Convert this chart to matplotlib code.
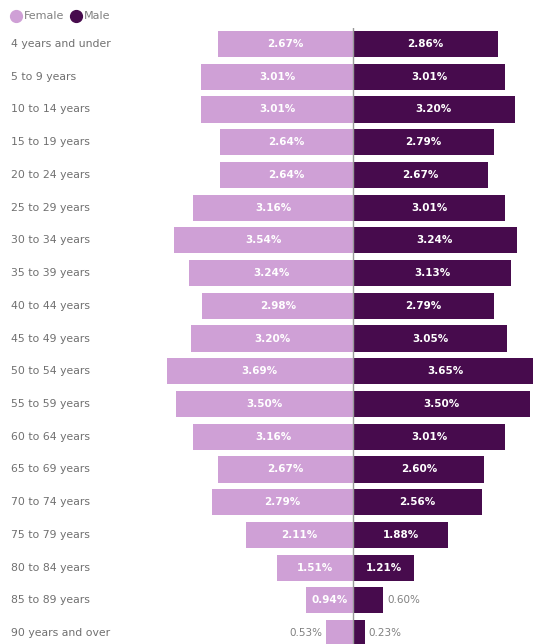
import matplotlib
matplotlib.use("Agg")
import matplotlib.pyplot as plt
from matplotlib.transforms import blended_transform_factory
from matplotlib.lines import Line2D

plt.rcParams['font.family'] = ['DejaVu Sans']

ages = ['4 years and under', '5 to 9 years', '10 to 14 years', '15 to 19 years',
        '20 to 24 years', '25 to 29 years', '30 to 34 years', '35 to 39 years',
        '40 to 44 years', '45 to 49 years', '50 to 54 years', '55 to 59 years',
        '60 to 64 years', '65 to 69 years', '70 to 74 years', '75 to 79 years',
        '80 to 84 years', '85 to 89 years', '90 years and over']
female = [2.67, 3.01, 3.01, 2.64, 2.64, 3.16, 3.54, 3.24, 2.98, 3.20,
          3.69, 3.50, 3.16, 2.67, 2.79, 2.11, 1.51, 0.94, 0.53]
male = [2.86, 3.01, 3.20, 2.79, 2.67, 3.01, 3.24, 3.13, 2.79, 3.05,
        3.65, 3.50, 3.01, 2.60, 2.56, 1.88, 1.21, 0.60, 0.23]

c_female = '#cfa0d6'
c_male = '#470b4d'
grey = '#808080'

W, H = 533, 644
fig = plt.figure(figsize=(W / 100, H / 100), dpi=100)
left = 166 / W
ax = fig.add_axes([left, -0.0084, 1 - left, 1 - 27.6 / H + 0.0084])

y = list(range(len(ages)))
ax.barh(y, [-v for v in female], height=0.8, color=c_female)
ax.barh(y, male, height=0.8, color=c_male)
ax.axvline(0, color='#999999', lw=1)

for i in y:
    f, m = female[i], male[i]
    if f >= 0.9:
        ax.text(-f / 2, i, '%.2f%%' % f, ha='center', va='center',
                color='white', fontsize=7.5, fontweight='semibold')
    else:
        ax.text(-f - 0.08, i, '%.2f%%' % f, ha='right', va='center',
                color=grey, fontsize=7.5)
    if m >= 0.9:
        ax.text(m / 2, i, '%.2f%%' % m, ha='center', va='center',
                color='white', fontsize=7.5, fontweight='bold')
    else:
        ax.text(m + 0.08, i, '%.2f%%' % m, ha='left', va='center',
                color=grey, fontsize=7.5)

ax.set_xlim(-3.7, 3.56)
ax.set_ylim(len(ages) - 0.5, -0.5)
ax.axis('off')

tr = blended_transform_factory(fig.transFigure, ax.transData)
for i, a in enumerate(ages):
    ax.text(11 / W, i, a, transform=tr, ha='left', va='center',
            color='#707070', fontsize=7.8)

handles = [Line2D([], [], marker='o', ls='', color=c_female, markersize=8.5, label='Female'),
           Line2D([], [], marker='o', ls='', color=c_male, markersize=8.5, label='Male')]
fig.legend(handles=handles, loc='upper left', bbox_to_anchor=(6 / W, 1 - 7 / H),
           ncol=2, frameon=False, fontsize=8, handlelength=1.0,
           handletextpad=0.2, columnspacing=0.6, labelcolor='#808080',
           borderpad=0.2, borderaxespad=0.2)

fig.savefig('out.png', dpi=100)
